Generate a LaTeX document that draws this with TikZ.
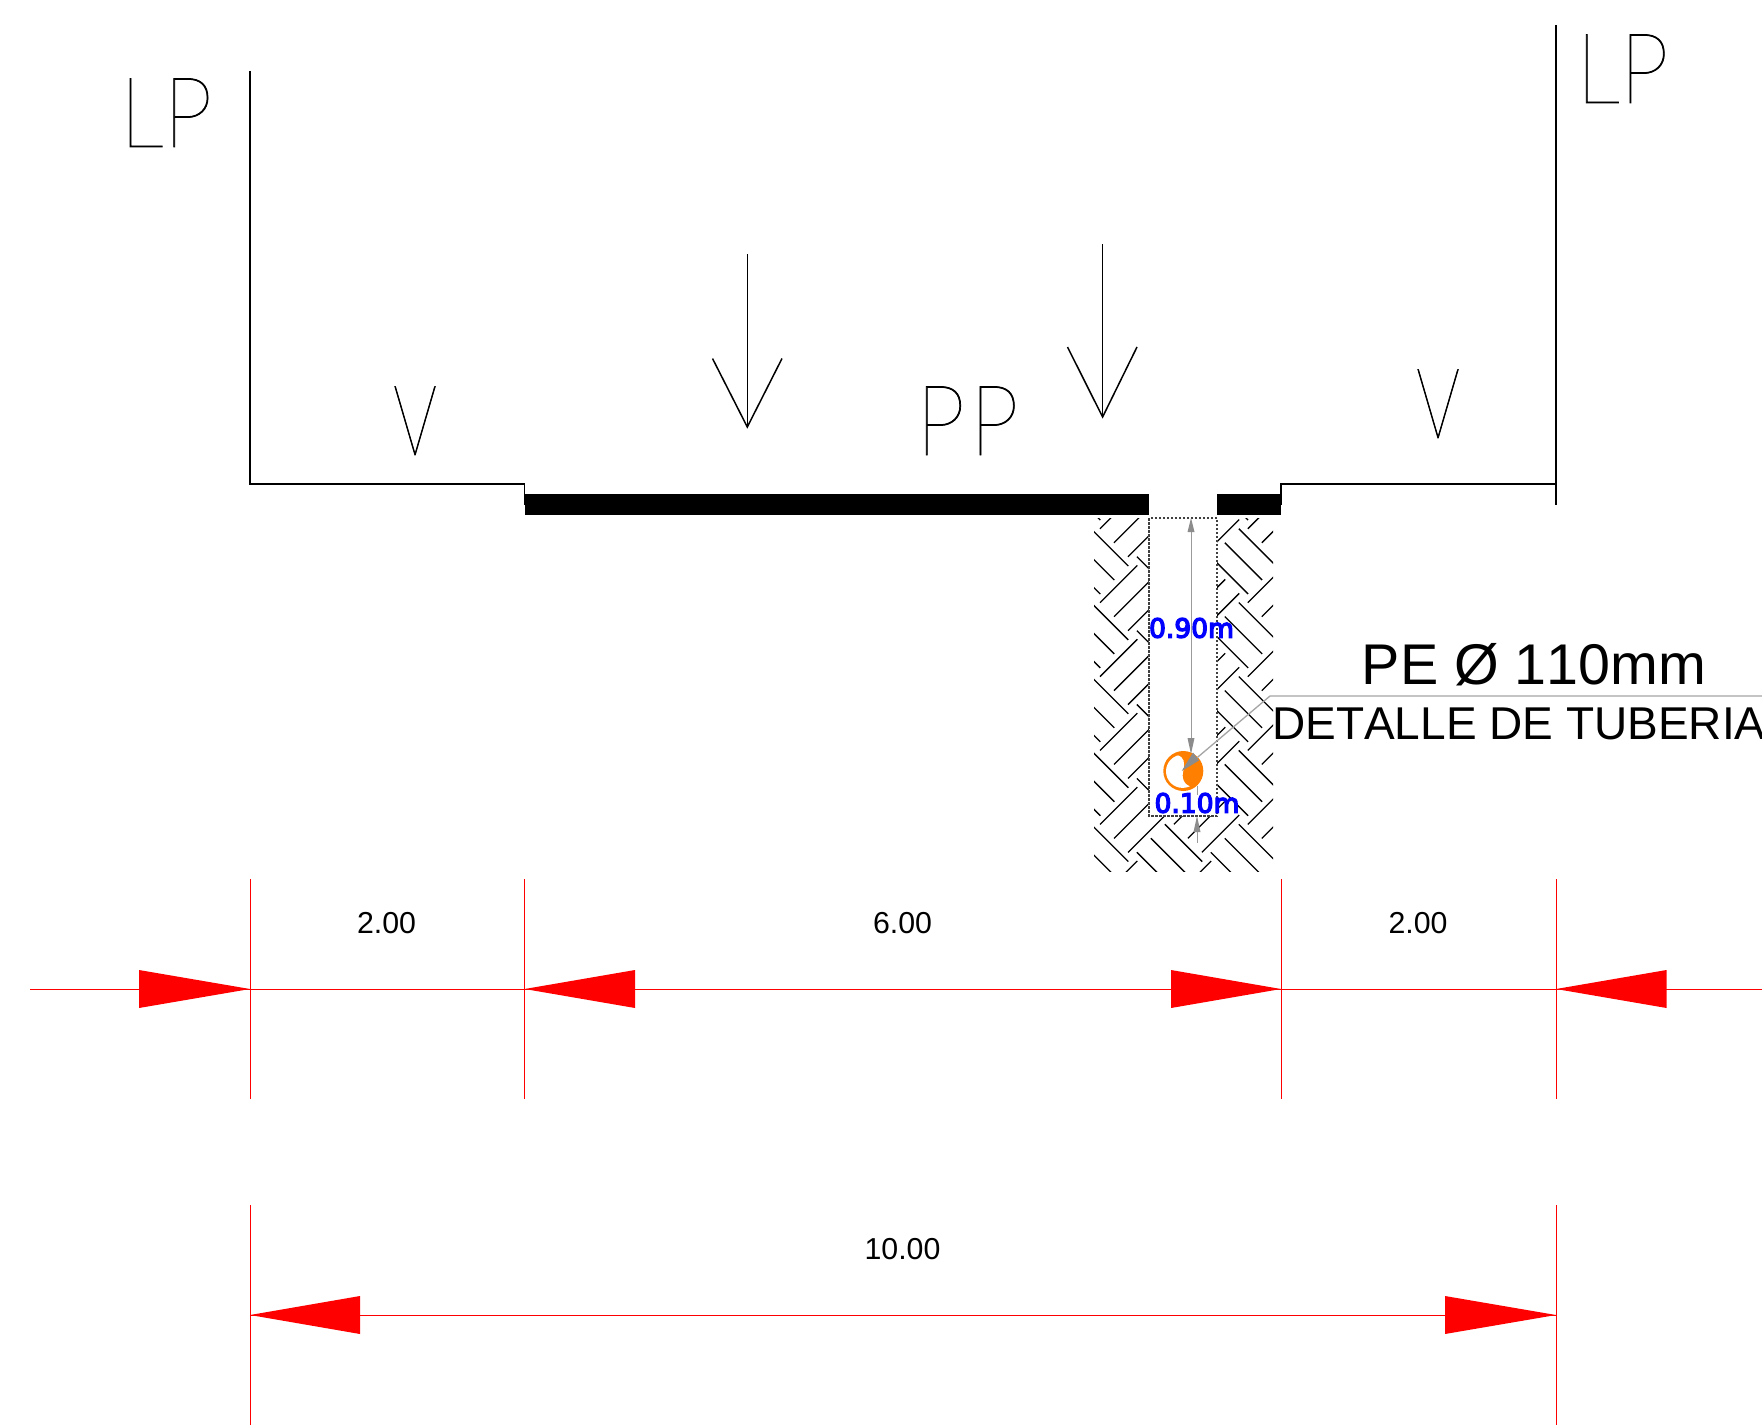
\documentclass[tikz,border=0pt]{standalone}
\usepackage{fontspec}
\setmainfont[Kerning=Off]{Liberation Sans}
\newfontfamily\thinf[FakeBold=0.8]{Lato Hairline}
\newfontfamily\dejaf[FakeBold=5]{DejaVu Sans}
\definecolor{redl}{RGB}{255,0,0}
\definecolor{grayl}{RGB}{165,165,165}
\definecolor{graya}{RGB}{140,140,140}
\definecolor{grayd}{RGB}{155,155,155}
\definecolor{orangep}{RGB}{255,128,0}
\definecolor{blued}{RGB}{0,0,255}
\tikzset{
  wall/.style={draw=black,line width=1.5pt},
  hatchl/.style={draw=black,line width=1.3pt},
  redline/.style={draw=redl,line width=0.8pt},
  redhead/.style={fill=redl,draw=none},
  lead/.style={draw=grayl,line width=1.3pt},
  dimg/.style={draw=grayd,line width=1pt},
  headg/.style={fill=graya,draw=none},
  txt/.style={inner sep=0pt,anchor=center,text=black},
  thinl/.style={inner sep=0pt,anchor=base west,text=black,font=\thinf\fontsize{98}{110}\selectfont},
  dimtxt/.style={txt,font=\fontsize{30.3}{36}\selectfont},
  bluet/.style={inner sep=0pt,anchor=center,text=blued,font=\dejaf\fontsize{26.5}{30}\selectfont},
}
\begin{document}
\begin{tikzpicture}[x=1pt,y=-1pt]
\useasboundingbox (0,0) rectangle (1762,1426);
\fill[white] (0,0) rectangle (1762,1426);

% hatch
\begin{scope}
\clip (1094,518) rectangle (1273,871.5);
\foreach \i in {-2,...,5}{
 \foreach \j in {-2,...,5}{
  \foreach \k in {0,1,2}{
   \draw[hatchl] ({1100+\i*73.9+\k*14},{602.7+\j*73.9+\k*14-73.9}) -- ++(37.3,-37.3);
   \draw[hatchl] ({1128.3+\i*73.9-\k*14},{566+\j*73.9+\k*14}) -- ++(-37.3,-37.3);
  }
 }
}
\end{scope}
\fill[white] (1149,518) rectangle (1217,816);
\draw[draw=black!75,line width=1.1pt,dash pattern=on 2.5pt off 1.5pt] (1149,518) rectangle (1217,816);

% walls and slab
\draw[wall] (250,71) -- (250,484) -- (524.6,484) -- (524.6,505);
\draw[wall] (1281,505) -- (1281,484) -- (1556,484);
\draw[wall] (1556,25) -- (1556,505);
\fill[black] (524.6,494) rectangle (1149,515);
\fill[black] (1216.5,494) rectangle (1281,515);

% load arrows
\draw[wall] (747.3,254) -- (747.3,427);
\draw[wall] (712.5,358.5) -- (747.3,427) -- (782,358.5);
\draw[wall] (1102.6,244) -- (1102.6,417);
\draw[wall] (1067.5,347) -- (1102.6,417) -- (1137,347);

% thin letters
\node[thinl] (lp1) at (119.7,147) {\scalebox{0.89}[1]{LP}};
\node[thinl] (lp2) at (1576,103) {\scalebox{0.89}[1]{LP}};
\node[thinl] (pp) at (916,455) {\scalebox{0.89}[1]{P\kern5.5pt P}};
\node[thinl] (v1) at (393,455) {\scalebox{0.7}[1]{V}};
\node[thinl] (v2) at (1416,438) {\scalebox{0.7}[1]{V}};

% pipe
\fill[orangep] (1183.3,771) circle (20);
\begin{scope}
\clip (1182.6,771.3) circle (16.6);
\fill[white] (1176.7,755) .. controls (1185,757) and (1184.5,763) .. (1183.5,770)
  .. controls (1181,778) and (1184,786) .. (1193,787) -- (1150,800) -- (1150,740) -- cycle;
\end{scope}

% vertical dimensions
\draw[dimg] (1191,530) -- (1191,742);
\fill[headg] (1191,518) -- (1194.5,532) -- (1187.5,532) -- cycle;
\fill[headg] (1191,754) -- (1194.5,738) -- (1187.5,738) -- cycle;
\draw[dimg] (1197,843) -- (1197,830);
\fill[headg] (1197,816) -- (1200.5,832) -- (1193.5,832) -- cycle;
\draw[dimg] (1197,786) -- (1197,795);

% leader
\coordinate (ld0) at (1762,696);
\coordinate (ld1) at (1270,696);
\coordinate (ld2) at (1192,762);
\draw[lead] (ld0) -- (ld1) -- (ld2);
\fill[headg] (1181.7,771) -- (1193,752.5) -- (1199,760.5) -- cycle;

% blue labels
\node[bluet] (d90) at (1191.5,628) {0.90m};
\node[bluet] (d10) at (1197,803) {0.10m};

% pipe labels
\node[inner sep=0pt,anchor=base,text=black,font=\fontsize{57.4}{60}\selectfont] (pe) at (1534,684) {PE Ø 110mm};
\node[inner sep=0pt,anchor=base west,text=black,font=\fontsize{46}{50}\selectfont] (det) at (1272,739) {DETALLE DE TUBERIA};

% red dimensions row 1
\draw[redline] (30,989) -- (1762,989);
\foreach \x in {250,524.6,1281,1556}{\draw[redline] (\x,879) -- (\x,1099);}
\fill[redhead] (250,989) -- (139,970) -- (139,1008) -- cycle;
\fill[redhead] (524.6,989) -- (635,970) -- (635,1008) -- cycle;
\fill[redhead] (1281,989) -- (1171,970) -- (1171,1008) -- cycle;
\fill[redhead] (1556,989) -- (1666.5,970) -- (1666.5,1008) -- cycle;
\node[dimtxt] (a1) at (386.5,923.5) {2.00};
\node[dimtxt] (a2) at (902.5,923.5) {6.00};
\node[dimtxt] (a3) at (1418,923.5) {2.00};

% red dimensions row 2
\draw[redline] (250,1315) -- (1556,1315);
\foreach \x in {250,1556}{\draw[redline] (\x,1205) -- (\x,1425);}
\fill[redhead] (250,1315) -- (360,1296) -- (360,1334) -- cycle;
\fill[redhead] (1556,1315) -- (1445,1296) -- (1445,1334) -- cycle;
\node[dimtxt] (a4) at (902.5,1249.5) {10.00};
\end{tikzpicture}
\end{document}
